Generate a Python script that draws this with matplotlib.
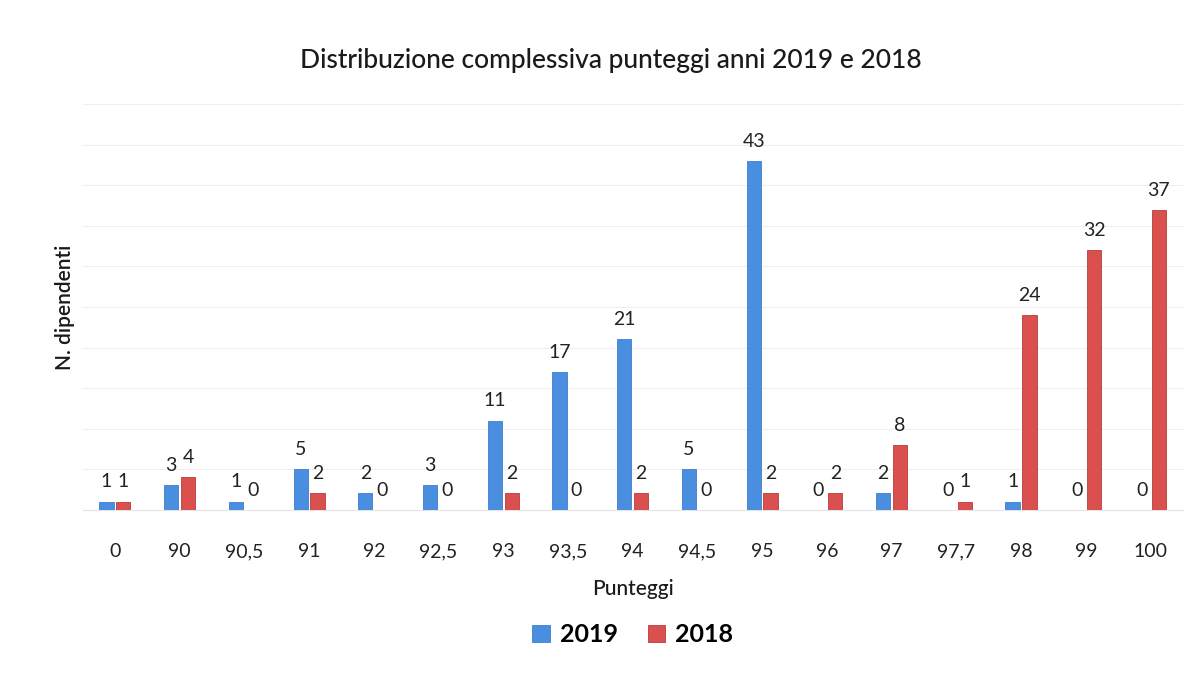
import numpy as np
import matplotlib.pyplot as plt

categories = ['0', '90', '90,5', '91', '92', '92,5', '93', '93,5', '94', '94,5',
              '95', '96', '97', '97,7', '98', '99', '100']
vals_2019 = [1, 3, 1, 5, 2, 3, 11, 17, 21, 5, 43, 0, 2, 0, 1, 0, 0]
vals_2018 = [1, 4, 0, 2, 0, 0, 2, 0, 2, 0, 2, 2, 8, 1, 24, 32, 37]

plt.rcParams['font.family'] = ['Lato', 'DejaVu Sans']

fig = plt.figure(figsize=(11.96, 6.86), dpi=100)
ax = fig.add_axes([0.069, 0.257, 0.92, 0.591])

x = np.arange(len(categories))
w = 0.22
b1 = ax.bar(x - w / 2 - 0.02, vals_2019, w, color='#4a8fdf', edgecolor='#3f7fcc',
            linewidth=0.6, label='2019', zorder=3)
b2 = ax.bar(x + w / 2 + 0.02, vals_2018, w, color='#d9504f', edgecolor='#b83c3c',
            linewidth=0.6, label='2018', zorder=3)

for bars in (b1, b2):
    ax.bar_label(bars, padding=8, fontsize=14, color='#222222')

ax.set_ylim(0, 50)
ax.set_xlim(-0.5, len(categories) - 0.5)
ax.set_yticks(np.arange(0, 51, 5))
ax.set_yticklabels([])
ax.tick_params(axis='y', length=0)
ax.tick_params(axis='x', length=0, labelsize=14, pad=24, colors='#222222')
ax.set_xticks(x)
ax.set_xticklabels(categories)
ax.grid(axis='y', color='#eeeeee', linewidth=0.8, zorder=0)
for s in ['top', 'right', 'left']:
    ax.spines[s].set_visible(False)
ax.spines['bottom'].set_color('#e4e4e4')

ax.set_title('Distribuzione complessiva punteggi anni 2019 e 2018', x=0.48,
             fontsize=19, color='#1a1a1a', pad=26, fontweight='medium')
ax.set_xlabel('Punteggi', fontsize=15, color='#1a1a1a', labelpad=14,
              fontweight='medium')
ax.set_ylabel('N. dipendenti', fontsize=15, color='#1a1a1a', labelpad=2,
              fontweight='semibold')

ax.legend(loc='upper center', bbox_to_anchor=(0.5, -0.225), ncol=2, frameon=False,
          handlelength=0.7, handleheight=0.7, columnspacing=1.2,
          handletextpad=0.4, prop={'size': 18, 'weight': 'bold'})

fig.savefig('out.png', dpi=100)
